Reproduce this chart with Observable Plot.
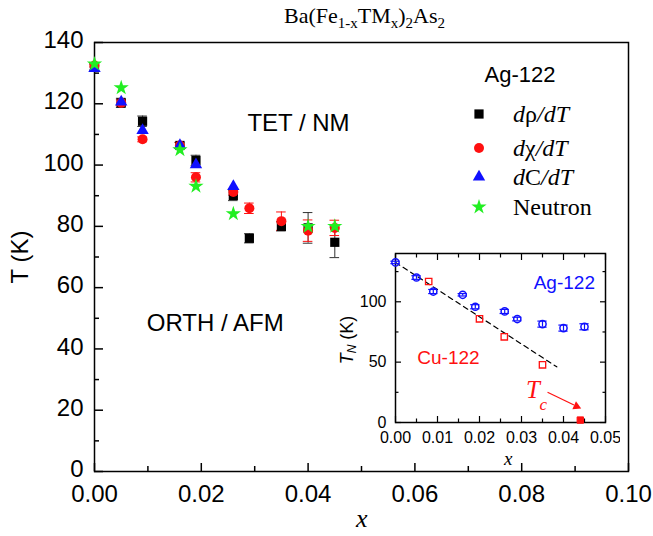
<!DOCTYPE html>
<html>
<head>
<meta charset="utf-8">
<script src="https://cdn.jsdelivr.net/npm/d3@7"></script>
<script src="https://cdn.jsdelivr.net/npm/@observablehq/plot@0.6"></script>
<style>
  html, body { margin: 0; padding: 0; background: #fff; }
  #wrap { position: relative; width: 653px; height: 536px; overflow: hidden; }
  .ab { position: absolute; white-space: nowrap; line-height: 1; }
  .serif { font-family: "Liberation Serif", "Times New Roman", serif; }
  .sans { font-family: "Liberation Sans", Arial, sans-serif; }
</style>
</head>
<body>
<div id="wrap"></div>
<script>
// ---------------- data ----------------
// main panel: Ag-122
const rhoX   = [0, 0.005, 0.009, 0.016, 0.019, 0.026, 0.029, 0.035, 0.040, 0.045];
const rhoT   = [132, 120.3, 114.3, 106.4, 101.5, 90.1, 76.1, 80.0, 79.5, 74.8];
const rhoErr = [1, 1.5, 1.7, 1.0, 1.7, 1.7, 1.5, 1.5, 5.0, 5.0];

const chiX   = [0, 0.005, 0.009, 0.016, 0.019, 0.026, 0.029, 0.035, 0.040, 0.045];
const chiT   = [132.5, 120.3, 108.4, 106.4, 96.0, 91.2, 85.9, 81.7, 78.6, 79.5];
const chiErr = [0.5, 1.0, 0.8, 1.0, 1.5, 1.0, 1.7, 3.0, 3.5, 2.5];

const cpX = [0, 0.005, 0.009, 0.016, 0.019, 0.026];
const cpT = [131.5, 120.6, 111.3, 106.4, 100.1, 93.0];

const neutronX = [0, 0.005, 0.016, 0.019, 0.026, 0.040, 0.045];
const neutronT = [133.0, 125.2, 105.0, 93.1, 84.1, 80.0, 80.0];

// inset: T_N of Ag-122 and Cu-122
const agX   = [0, 0.005, 0.009, 0.016, 0.019, 0.026, 0.029, 0.035, 0.040, 0.045];
const agT   = [132.6, 120.1, 108.5, 105.8, 95.9, 92.0, 85.7, 81.5, 78.2, 79.3];
const agErr = [1.0, 1.5, 1.7, 1.0, 1.7, 1.7, 1.5, 2.5, 2.5, 2.5];

const cuX = [0.0079, 0.020, 0.0259, 0.035];
const cuT = [116.8, 85.9, 71.0, 47.8];

const tcX = [0.044];
const tcT = [2.0];

const fitX = [0, 0.0384];
const fitT = [132.6, 46.1];

// ticks
const mainXMajor = [0, 0.02, 0.04, 0.06, 0.08, 0.10];
const mainXMinor = [0.01, 0.03, 0.05, 0.07, 0.09];
const mainYMajor = [0, 20, 40, 60, 80, 100, 120, 140];
const mainYMinor = [10, 30, 50, 70, 90, 110, 130];
const insetXMajor = [0, 0.01, 0.02, 0.03, 0.04, 0.05];
const insetXMinor = [0.005, 0.015, 0.025, 0.035, 0.045];
const insetYMajor = [0, 50, 100];
const insetYMinor = [25, 75, 125];

// legend
const legendNames = ["dρ/dT", "dχ/dT", "dC/dT", "Neutron"];

// ---------------- helpers ----------------
const rows = (xs, ts, es) => xs.map((x, i) => ({x, T: ts[i], e: es ? es[i] : 0}));
const RED = "#ff1010", BLUE = "#1010ff", GREEN = "#22ee22", BLACK = "#000";

function errBars(data, color, cap, w = 1) {
  return [
    Plot.ruleX(data, {x: "x", y1: d => d.T - d.e, y2: d => d.T + d.e, stroke: color, strokeWidth: w}),
    Plot.ruleY(data, {y: d => d.T + d.e, x1: d => d.x - cap, x2: d => d.x + cap, stroke: color, strokeWidth: w}),
    Plot.ruleY(data, {y: d => d.T - d.e, x1: d => d.x - cap, x2: d => d.x + cap, stroke: color, strokeWidth: w})
  ];
}

const rho = rows(rhoX, rhoT, rhoErr);
const chi = rows(chiX, chiT, chiErr);
const cp = rows(cpX, cpT);
const neu = rows(neutronX, neutronT);
const ag = rows(agX, agT, agErr);
const cu = rows(cuX, cuT);
const tc = rows(tcX, tcT);
const fit = rows(fitX, fitT);

const wrap = document.getElementById("wrap");

// ---------------- main plot ----------------
const main = Plot.plot({
  width: 653, height: 536,
  marginLeft: 94, marginRight: 25, marginTop: 42, marginBottom: 65,
  style: {fontFamily: "Liberation Sans, Arial, sans-serif", fontSize: "24px", color: "#000", background: "transparent"},
  x: {domain: [0, 0.1]},
  y: {domain: [0, 140]},
  marks: [
    Plot.frame({stroke: "#000", strokeWidth: 1.5}),
    Plot.axisX({ticks: mainXMajor, tickSize: -8, tickPadding: 21, tickFormat: d3.format(".2f"), label: null, strokeWidth: 1.5}),
    Plot.axisX({ticks: mainXMinor, tickSize: -5, tickFormat: () => "", label: null, strokeWidth: 1.5}),
    Plot.axisY({ticks: mainYMajor, tickSize: -9, tickFormat: () => "", label: null, strokeWidth: 1.5}),
    Plot.axisY({ticks: mainYMajor, tickSize: 0, tickPadding: 11, dy: -2, tickFormat: d3.format("d"), label: null}),
    Plot.axisY({ticks: mainYMinor, tickSize: -5, tickFormat: () => "", label: null, strokeWidth: 1.5}),
    ...errBars(rho, "#333", 0.0009),
    ...errBars(chi, RED, 0.0009),
    Plot.dot(rho, {x: "x", y: "T", symbol: "square", r: 5.2, fill: BLACK, stroke: "none"}),
    Plot.dot(chi, {x: "x", y: "T", symbol: "circle", r: 5, fill: RED, stroke: "none"}),
    Plot.dot(cp, {x: "x", y: "T", symbol: "triangle", r: 4.6, fill: BLUE, stroke: "none"}),
    Plot.dot(neu, {x: "x", y: "T", symbol: "star", r: 4.8, fill: GREEN, stroke: "none"}),
    Plot.text(["TET / NM"], {x: 0.0382, y: 113.6, text: d => d, fontSize: 24, fill: "#000"}),
    Plot.text(["ORTH / AFM"], {x: 0.0226, y: 48.5, text: d => d, fontSize: 24, fill: "#000"})
  ]
});
main.style.position = "absolute";
main.style.left = "0px";
main.style.top = "0px";
wrap.appendChild(main);

// ---------------- inset ----------------
const inset = Plot.plot({
  width: 280, height: 227,
  marginLeft: 55, marginRight: 15, marginTop: 13, marginBottom: 45,
  style: {fontFamily: "Liberation Sans, Arial, sans-serif", fontSize: "16px", color: "#000", background: "transparent"},
  x: {domain: [0, 0.05]},
  y: {domain: [0, 140]},
  marks: [
    Plot.frame({stroke: "#000", strokeWidth: 1.5}),
    Plot.axisX({anchor: "bottom", ticks: insetXMajor, tickSize: -6, tickPadding: 15, tickFormat: d3.format(".2f"), label: null, strokeWidth: 1.2}),
    Plot.axisX({anchor: "bottom", ticks: insetXMinor, tickSize: -3.5, tickFormat: () => "", label: null, strokeWidth: 1.2}),
    Plot.axisX({anchor: "top", ticks: insetXMajor, tickSize: -6, tickFormat: () => "", label: null, strokeWidth: 1.2}),
    Plot.axisX({anchor: "top", ticks: insetXMinor, tickSize: -3.5, tickFormat: () => "", label: null, strokeWidth: 1.2}),
    Plot.axisY({anchor: "left", ticks: insetYMajor, tickSize: -6, tickPadding: 15, tickFormat: d3.format("d"), label: null, strokeWidth: 1.2}),
    Plot.axisY({anchor: "left", ticks: insetYMinor, tickSize: -3.5, tickFormat: () => "", label: null, strokeWidth: 1.2}),
    Plot.axisY({anchor: "right", ticks: insetYMajor, tickSize: -6, tickFormat: () => "", label: null, strokeWidth: 1.2}),
    Plot.axisY({anchor: "right", ticks: insetYMinor, tickSize: -3.5, tickFormat: () => "", label: null, strokeWidth: 1.2}),
    Plot.line(fit, {x: "x", y: "T", stroke: "#000", strokeWidth: 1.2, strokeDasharray: "5,4"}),
    ...errBars(ag, BLUE, 0.0011, 1.2),
    Plot.dot(ag, {x: "x", y: "T", symbol: "circle", r: 3.6, fill: "none", stroke: BLUE, strokeWidth: 1.5}),
    Plot.dot(cu, {x: "x", y: "T", symbol: "square", r: 3.6, fill: "none", stroke: RED, strokeWidth: 1.3}),
    Plot.dot(tc, {x: "x", y: "T", symbol: "square", r: 3.6, fill: RED, stroke: RED, strokeWidth: 1}),
    Plot.link([0], {x1: 0.0362, y1: 25, x2: 0.0425, y2: 14.5, stroke: RED, strokeWidth: 1.2}),
    Plot.dot([0], {x: 0.0431, y: 13.4, symbol: "triangle", r: 3.3, fill: RED, stroke: "none", rotate: 114}),
    Plot.text(["Ag-122"], {x: 0.0402, y: 115.8, text: d => d, fontSize: 19, fill: BLUE}),
    Plot.text(["Cu-122"], {x: 0.0126, y: 53.3, text: d => d, fontSize: 19, fill: RED}),
    Plot.text(["T"], {x: 0.0327, y: 27, text: d => d, fontSize: 25, fill: RED, fontStyle: "italic", fontFamily: "Liberation Serif, Times New Roman, serif"}),
    Plot.text(["c"], {x: 0.0352, y: 14.5, text: d => d, fontSize: 17, fill: RED, fontStyle: "italic", fontFamily: "Liberation Serif, Times New Roman, serif"})
  ]
});
inset.style.position = "absolute";
inset.style.left = "340px";
inset.style.top = "240px";
wrap.appendChild(inset);

// ---------------- html texts ----------------
function addText(html, cls, css) {
  const d = document.createElement("div");
  d.className = "ab " + cls;
  d.innerHTML = html;
  Object.assign(d.style, css);
  wrap.appendChild(d);
  return d;
}
// title
const sub = 'style="font-size:15px;vertical-align:-5px"';
addText(`Ba(Fe<sub ${sub}>1-x</sub>TM<sub ${sub}>x</sub>)<sub ${sub}>2</sub>As<sub ${sub}>2</sub>`,
  "serif", {left: "284px", top: "5px", fontSize: "22px"});
// axis labels
addText('<i>x</i>', "serif", {left: "356px", top: "506px", fontSize: "26px"});
addText('T (K)', "sans", {left: "20px", top: "257px", fontSize: "24px", transform: "translate(-50%,-50%) rotate(-90deg)"});
addText('<i>x</i>', "serif", {left: "504px", top: "449px", fontSize: "19px"});
addText('<i>T</i><sub style="font-size:12px;vertical-align:-3px"><i>N</i></sub> (K)', "sans", {left: "348px", top: "340px", fontSize: "18px", transform: "translate(-50%,-50%) rotate(-90deg)"});

// legend
addText('Ag-122', "sans", {left: "520px", top: "75px", fontSize: "22px", transform: "translate(-50%,-50%)"});
const legSyms = [
  {sym: d3.symbolSquare, r: 5.2, color: BLACK},
  {sym: d3.symbolCircle, r: 5, color: RED},
  {sym: d3.symbolTriangle, r: 4.6, color: BLUE},
  {sym: d3.symbolStar, r: 4.8, color: GREEN}
];
const legY = [114, 148, 177, 207];
const legHTML = [
  '<i>d</i>ρ<i>/dT</i>',
  '<i>d</i>χ<i>/dT</i>',
  '<i>d</i>C<i>/dT</i>',
  legendNames[3]
];
const ns = "http://www.w3.org/2000/svg";
const legSvg = document.createElementNS(ns, "svg");
legSvg.setAttribute("width", 653);
legSvg.setAttribute("height", 536);
legSvg.style.position = "absolute";
legSvg.style.left = "0px";
legSvg.style.top = "0px";
legSyms.forEach((s, i) => {
  const p = document.createElementNS(ns, "path");
  p.setAttribute("d", d3.symbol(s.sym, Math.PI * s.r * s.r)());
  p.setAttribute("transform", `translate(479,${legY[i]})`);
  p.setAttribute("fill", s.color);
  legSvg.appendChild(p);
  addText(legHTML[i], "serif", {left: "513px", top: (legY[i]) + "px", fontSize: "24px", transform: "translateY(-50%)"});
});
wrap.appendChild(legSvg);
</script>
</body>
</html>
